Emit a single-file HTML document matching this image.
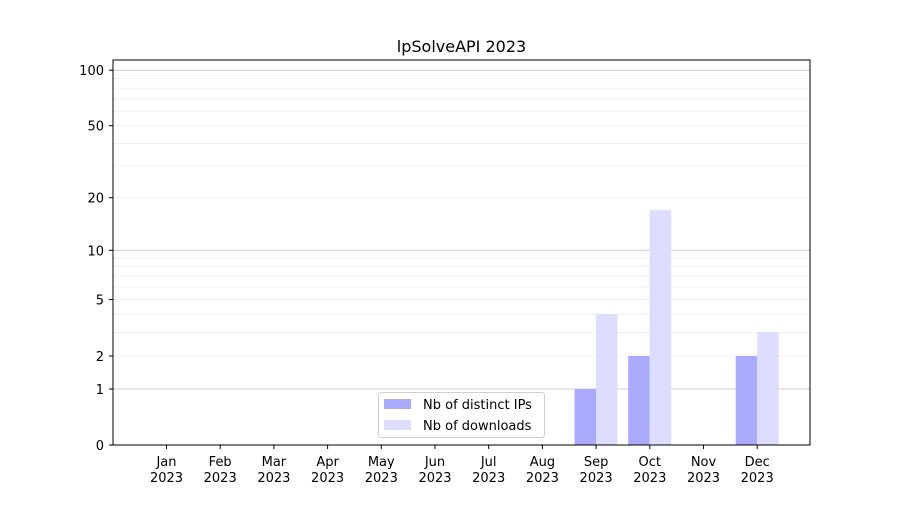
<!DOCTYPE html>
<html><head><meta charset="utf-8"><style>body{margin:0;background:#fff}</style></head>
<body>
<svg width="900" height="500" xmlns="http://www.w3.org/2000/svg" font-family="DejaVu Sans, Liberation Sans, sans-serif" font-size="13">
<rect width="900" height="500" fill="#fff"/>
<g stroke="#ebebeb" stroke-width="0.8">
<line x1="113" x2="810" y1="356" y2="356"/><line x1="113" x2="810" y1="332.4" y2="332.4"/><line x1="113" x2="810" y1="314.3" y2="314.3"/><line x1="113" x2="810" y1="299.5" y2="299.5"/><line x1="113" x2="810" y1="287" y2="287"/><line x1="113" x2="810" y1="276.1" y2="276.1"/><line x1="113" x2="810" y1="266.6" y2="266.6"/><line x1="113" x2="810" y1="258" y2="258"/>
<line x1="113" x2="810" y1="197.7" y2="197.7"/><line x1="113" x2="810" y1="166.1" y2="166.1"/><line x1="113" x2="810" y1="143.4" y2="143.4"/><line x1="113" x2="810" y1="125.7" y2="125.7"/><line x1="113" x2="810" y1="111.1" y2="111.1"/><line x1="113" x2="810" y1="98.8" y2="98.8"/><line x1="113" x2="810" y1="88.1" y2="88.1"/><line x1="113" x2="810" y1="78.7" y2="78.7"/>
</g>
<g stroke="#cccccc" stroke-width="1">
<line x1="113" x2="810" y1="389" y2="389"/><line x1="113" x2="810" y1="250.3" y2="250.3"/><line x1="113" x2="810" y1="70.2" y2="70.2"/>
</g>
<!-- bars -->
<rect x="574.5" y="389" width="21.5" height="56" fill="#aaaaff"/>
<rect x="596" y="314.3" width="21.5" height="130.7" fill="#ddddff"/>
<rect x="628.2" y="356" width="21.5" height="89" fill="#aaaaff"/>
<rect x="649.7" y="210" width="21.5" height="235" fill="#ddddff"/>
<rect x="735.7" y="356" width="21.5" height="89" fill="#aaaaff"/>
<rect x="757.2" y="332.4" width="21.5" height="112.6" fill="#ddddff"/>
<rect x="113" y="60" width="697" height="385" fill="none" stroke="#000" stroke-width="1"/>
<!-- y ticks -->
<g stroke="#000"><line x1="109" x2="113" y1="445" y2="445"/><line x1="109" x2="113" y1="389" y2="389"/><line x1="109" x2="113" y1="356" y2="356"/><line x1="109" x2="113" y1="299.5" y2="299.5"/><line x1="109" x2="113" y1="250.3" y2="250.3"/><line x1="109" x2="113" y1="197.7" y2="197.7"/><line x1="109" x2="113" y1="125.7" y2="125.7"/><line x1="109" x2="113" y1="70.2" y2="70.2"/></g>
<g text-anchor="end" fill="#000">
<text x="104" y="450">0</text><text x="104" y="394">1</text><text x="104" y="361">2</text><text x="104" y="304.5">5</text><text x="104" y="255.3">10</text><text x="104" y="202.7">20</text><text x="104" y="130.7">50</text><text x="104" y="75.2">100</text>
</g>
<!-- x ticks -->
<g stroke="#000">
<line x1="166.5" x2="166.5" y1="445" y2="449"/><line x1="220.2" x2="220.2" y1="445" y2="449"/><line x1="273.9" x2="273.9" y1="445" y2="449"/><line x1="327.6" x2="327.6" y1="445" y2="449"/><line x1="381.3" x2="381.3" y1="445" y2="449"/><line x1="435" x2="435" y1="445" y2="449"/><line x1="488.7" x2="488.7" y1="445" y2="449"/><line x1="542.4" x2="542.4" y1="445" y2="449"/><line x1="596.1" x2="596.1" y1="445" y2="449"/><line x1="649.8" x2="649.8" y1="445" y2="449"/><line x1="703.5" x2="703.5" y1="445" y2="449"/><line x1="757.2" x2="757.2" y1="445" y2="449"/>
</g>
<g text-anchor="middle" fill="#000">
<text x="166.5" y="466">Jan</text><text x="166.5" y="482">2023</text>
<text x="220.2" y="466">Feb</text><text x="220.2" y="482">2023</text>
<text x="273.9" y="466">Mar</text><text x="273.9" y="482">2023</text>
<text x="327.6" y="466">Apr</text><text x="327.6" y="482">2023</text>
<text x="381.3" y="466">May</text><text x="381.3" y="482">2023</text>
<text x="435" y="466">Jun</text><text x="435" y="482">2023</text>
<text x="488.7" y="466">Jul</text><text x="488.7" y="482">2023</text>
<text x="542.4" y="466">Aug</text><text x="542.4" y="482">2023</text>
<text x="596.1" y="466">Sep</text><text x="596.1" y="482">2023</text>
<text x="649.8" y="466">Oct</text><text x="649.8" y="482">2023</text>
<text x="703.5" y="466">Nov</text><text x="703.5" y="482">2023</text>
<text x="757.2" y="466">Dec</text><text x="757.2" y="482">2023</text>
</g>
<text x="461.5" y="52" text-anchor="middle" font-size="16">lpSolveAPI 2023</text>
<!-- legend -->
<rect x="378.5" y="392.5" width="166" height="45" rx="3" fill="#fff" fill-opacity="0.8" stroke="#d0d0d0"/>
<rect x="384" y="399" width="27" height="10" fill="#aaaaff"/>
<rect x="384" y="420" width="27" height="10" fill="#ddddff"/>
<text x="423" y="409">Nb of distinct IPs</text>
<text x="423" y="430">Nb of downloads</text>
</svg>
</body></html>
